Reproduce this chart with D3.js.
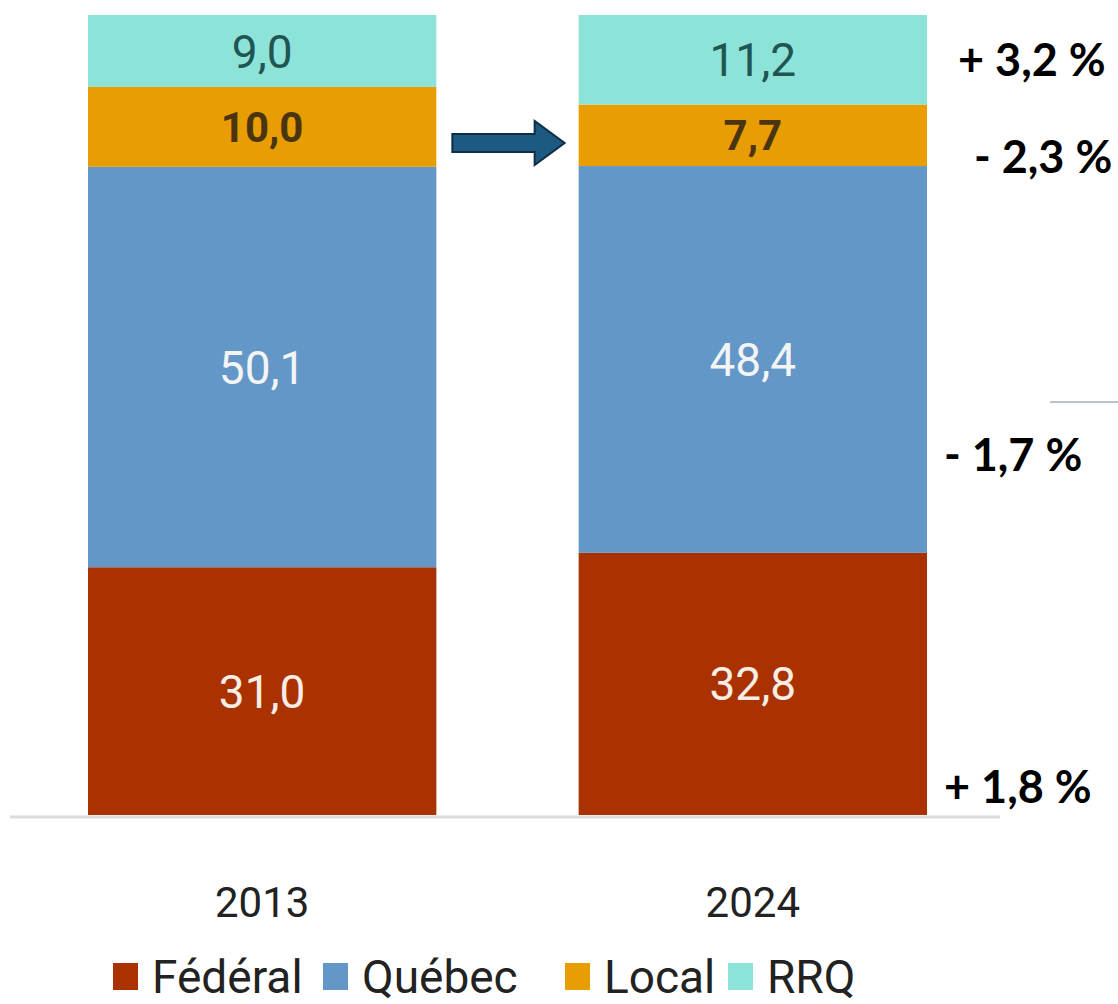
<!DOCTYPE html>
<html>
<head>
<meta charset="utf-8">
<script src="https://cdn.jsdelivr.net/npm/d3@7"></script>
<style>
body{margin:0;background:#fff;}
svg{display:block;}
</style>
</head>
<body>
<div id="chart"></div>
<script>

/* ==========================
   Data
========================== */

const years = ["2013", "2024"];
const series = ["Fédéral", "Québec", "Local", "RRQ"];
const federal = [31.0, 32.8];
const quebec = [50.1, 48.4];
const local = [10.0, 7.7];
const rrq = [9.0, 11.2];
const changes = ["+ 1,8 %", "- 1,7 %", "- 2,3 %", "+ 3,2 %"];

const colors = ["#a93200", "#6297c8", "#e89d02", "#8de3d8"];
const labelColors = ["#f6eee4", "#f4f4f4", "#4a3510", "#1f5552"];
const labelWeights = ["normal", "normal", "bold", "normal"];
const labelSizes = [46, 46, 42, 46];

/* ==========================
   Setup
========================== */

const width = 1118;
const height = 1004;

const svg = d3.select("#chart")
.append("svg")
.attr("width", width)
.attr("height", height);

const rows = years.map((y, i) => ({
year: y,
"Fédéral": federal[i],
"Québec": quebec[i],
"Local": local[i],
"RRQ": rrq[i]
}));

const stacked = d3.stack().keys(series)(rows);

const x = d3.scaleBand()
.domain(years)
.range([88, 927])
.paddingInner(0.29)
.paddingOuter(0);

const y = d3.scaleLinear()
.domain([0, 100.1])
.range([815, 15]);

// baseline
svg.append("line")
.attr("x1", 10)
.attr("x2", 1000)
.attr("y1", 817)
.attr("y2", 817)
.attr("stroke", "#dcdcdc")
.attr("stroke-width", 3);

/* ==========================
   Bars
========================== */

const layers = svg.append("g")
.selectAll("g")
.data(stacked)
.enter()
.append("g")
.attr("fill", (d, i) => colors[i]);

layers.selectAll("rect")
.data(d => d)
.enter()
.append("rect")
.attr("x", d => x(d.data.year))
.attr("width", x.bandwidth())
.attr("y", d => y(d[1]))
.attr("height", d => y(d[0]) - y(d[1]));

layers.each(function(layer, i){

d3.select(this)
.selectAll("text")
.data(layer)
.enter()
.append("text")
.attr("x", d => x(d.data.year) + x.bandwidth() / 2)
.attr("y", d => (y(d[0]) + y(d[1])) / 2)
.attr("dy", "0.36em")
.attr("text-anchor", "middle")
.attr("font-family", "Roboto, Arial, sans-serif")
.attr("font-size", labelSizes[i])
.attr("font-weight", labelWeights[i])
.attr("fill", labelColors[i])
.text(d => d3.format(".1f")(d[1] - d[0]).replace(".", ","));

});

/* ==========================
   Axis labels
========================== */

const xAxis = svg.append("g")
.attr("transform", "translate(0,817)")
.call(d3.axisBottom(x).tickSize(0).tickPadding(70));

xAxis.select(".domain").remove();

xAxis.selectAll("text")
.attr("font-family", "Roboto, Arial, sans-serif")
.attr("font-size", 42)
.attr("fill", "#222");

/* ==========================
   Arrow
========================== */

const ax = x("2013") + x.bandwidth() + 16;
const bx = x("2024") - 14;
const ay = 143;

svg.append("path")
.attr("d", `M${ax},${ay - 9} L${bx - 30},${ay - 9} L${bx - 30},${ay - 22} L${bx},${ay} L${bx - 30},${ay + 22} L${bx - 30},${ay + 9} L${ax},${ay + 9} Z`)
.attr("fill", "#1d5a82")
.attr("stroke", "#0f2e44")
.attr("stroke-width", 2);

/* ==========================
   Change annotations
========================== */

const changeX = [944, 944, 974, 958];
const changeY = [787, 455, 157, 60];

svg.append("g")
.selectAll("text")
.data(changes)
.enter()
.append("text")
.attr("x", (d, i) => changeX[i])
.attr("y", (d, i) => changeY[i])
.attr("dy", "0.36em")
.attr("font-family", "Lato, 'Open Sans', sans-serif")
.attr("font-weight", "bold")
.attr("font-size", 45)
.attr("fill", "#000")
.text(d => d);

svg.append("line")
.attr("x1", 1050)
.attr("x2", 1118)
.attr("y1", 402)
.attr("y2", 402)
.attr("stroke", "#b8c4c8")
.attr("stroke-width", 2);

/* ==========================
   Legend
========================== */

const legendX = [113, 323, 565, 728];

const legend = svg.append("g")
.selectAll("g")
.data(series)
.enter()
.append("g")
.attr("transform", (d, i) => `translate(${legendX[i]},976)`);

legend.append("rect")
.attr("x", 0)
.attr("y", -13)
.attr("width", 25)
.attr("height", 27)
.attr("fill", (d, i) => colors[i]);

legend.append("text")
.attr("x", 39)
.attr("dy", "0.36em")
.attr("font-family", "Roboto, Arial, sans-serif")
.attr("font-size", 46)
.attr("fill", "#222")
.text(d => d);

</script>
</body>
</html>
